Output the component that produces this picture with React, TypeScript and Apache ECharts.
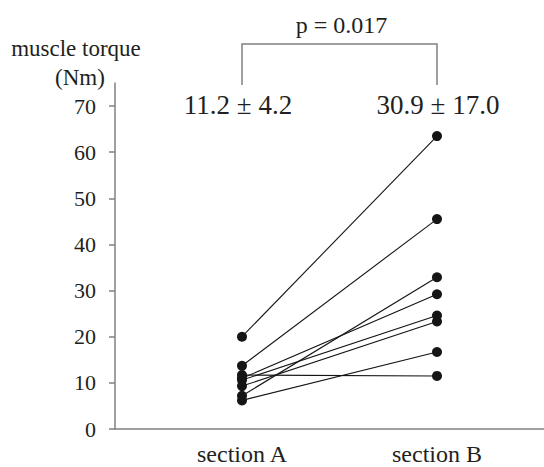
import React, { useEffect, useRef } from "react";
import * as echarts from "echarts";

const categories = ["section A", "section B"];
const sectionA = [20.0, 13.7, 11.7, 11.0, 10.6, 9.3, 7.2, 6.2];
const sectionB = [63.5, 45.5, 11.5, 29.2, 24.6, 23.3, 32.9, 16.7];
const yTicks = [0, 10, 20, 30, 40, 50, 60, 70];
const meanLabels = ["11.2 ± 4.2", "30.9 ± 17.0"];
const pLabel = "p = 0.017";
const yTitle = ["muscle torque", "(Nm)"];

const FONT = "Liberation Serif";
const TEXT = "#231f20";
const AXIS = "#808080";

export default function App() {
  const ref = useRef<HTMLDivElement>(null);
  useEffect(() => {
    if (!ref.current) return;
    const chart = echarts.init(ref.current, null, { renderer: "svg" });
    const series = sectionA.map((a, i) => ({
      type: "line",
      data: [
        [1, a],
        [2, sectionB[i]],
      ],
      symbol: "circle",
      symbolSize: 10,
      lineStyle: { color: "#151515", width: 1.1 },
      itemStyle: { color: "#151515" },
      emphasis: { disabled: true },
    }));
    chart.setOption({
      animation: false,
      textStyle: { fontFamily: FONT },
      grid: { left: 115, right: 0, top: 83, bottom: 38, containLabel: false },
      xAxis: {
        type: "value",
        min: 0.3487,
        max: 2.5487,
        splitLine: { show: false },
        axisTick: { show: false },
        axisLine: { show: true, lineStyle: { color: AXIS, width: 1.5 } },
        axisLabel: {
          customValues: [1, 2],
          formatter: (v: number) => categories[Math.round(v) - 1] ?? "",
          fontSize: 24,
          fontFamily: FONT,
          color: TEXT,
          margin: 13,
        },
      },
      yAxis: {
        type: "value",
        min: 0,
        max: 75,
        splitLine: { show: false },
        axisLine: { show: true, lineStyle: { color: AXIS, width: 1.5 } },
        axisTick: {
          show: true,
          customValues: yTicks,
          length: 6,
          lineStyle: { color: AXIS, width: 1.5 },
        },
        axisLabel: {
          customValues: yTicks,
          fontSize: 22,
          fontFamily: FONT,
          color: TEXT,
          margin: 19,
        },
      },
      series,
    });
    const pA = chart.convertToPixel({ gridIndex: 0 }, [1, 70]) as number[];
    const pB = chart.convertToPixel({ gridIndex: 0 }, [2, 70]) as number[];
    const label = (t: string, x: number, y: number, size: number) => ({
      type: "text",
      x,
      y,
      style: {
        text: t,
        fontSize: size,
        fontFamily: FONT,
        fill: TEXT,
        align: "center",
        verticalAlign: "middle",
      },
    });
    const bracketTop = 44;
    const bracketBottom = 85;
    chart.setOption({
      graphic: [
        label(meanLabels[0], pA[0] - 4, pA[1] - 1, 27),
        label(meanLabels[1], pB[0] + 1, pB[1] - 1, 27),
        label(pLabel, (pA[0] + pB[0]) / 2 + 2, 25, 24),
        label(yTitle[0], 76, 48, 23),
        label(yTitle[1], 80, 77, 23),
        {
          type: "polyline",
          shape: {
            points: [
              [pA[0], bracketBottom],
              [pA[0], bracketTop],
              [pB[0], bracketTop],
              [pB[0], bracketBottom],
            ],
          },
          style: { stroke: AXIS, lineWidth: 1.5, fill: null },
        },
      ],
    });
    return () => chart.dispose();
  }, []);
  return (
    <div
      ref={ref}
      style={{ position: "fixed", left: 0, top: 0, width: 544, height: 467, background: "#fff" }}
    />
  );
}
